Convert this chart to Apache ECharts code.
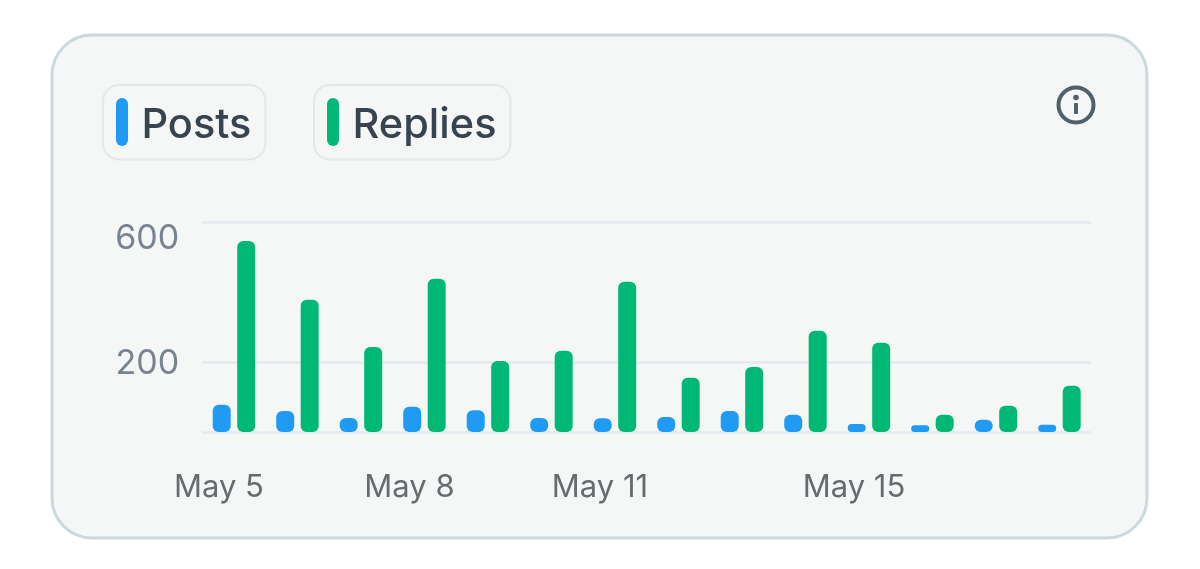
<!DOCTYPE html>
<html>
<head>
<meta charset="utf-8">
<style>html,body{margin:0;padding:0;background:#fff}#chart{width:1200px;height:569px}</style>
<script src="https://cdn.jsdelivr.net/npm/echarts@6/dist/echarts.min.js"></script>
</head>
<body>
<div id="chart"></div>
<script>
// Daily activity: posts and replies per day
const days = ['May 5','May 6','May 7','May 8','May 9','May 10','May 11','May 12','May 13','May 14','May 15','May 16','May 17','May 18'];
const posts = [78,60,40,72,62,40,39,43,60,49,23,19,35,21];
const replies = [546,378,243,438,203,232,429,155,186,289,255,49,75,132];
const yTicks = [0,200,600];
const yLabels = [200,600];
const xLabels = ['May 5','May 8','May 11','May 15'];

const font = 'Inter, sans-serif';
const capsule = 'path://M0 6A6 6 0 0 1 12 6V42A6 6 0 0 1 0 42Z';

function chip(name, left) {
  return {
    data: [name], left: left, top: 85, orient: 'horizontal', selectedMode: false,
    icon: capsule, itemWidth: 13, itemHeight: 48, itemGap: 0,
    padding: [13, 14, 13, 13], borderColor: '#e3e8ec', borderWidth: 2, borderRadius: 16,
    formatter: '{t|{name}}',
    textStyle: {
      padding: [0, 0, 0, 8],
      rich: { t: { fontFamily: font, fontSize: 41.5, fontWeight: 500, color: '#37434f', padding: [7, 0, 0, 0] } }
    }
  };
}

const chart = echarts.init(document.getElementById('chart'), null, { renderer: 'canvas' });
chart.setOption({
  animation: false,
  backgroundColor: '#ffffff',
  color: ['#1f9bf4', '#00b875'],
  graphic: [
    { type: 'rect', z: -1, shape: { x: 52, y: 35, width: 1095, height: 503, r: 40 },
      style: { fill: '#f5f7f7', stroke: '#cbd8de', lineWidth: 3 } },
    { type: 'circle', z: 5, shape: { cx: 1076, cy: 105, r: 17.5 },
      style: { fill: 'none', stroke: '#50606c', lineWidth: 4 } },
    { type: 'circle', z: 5, shape: { cx: 1076, cy: 97.5, r: 2.8 }, style: { fill: '#50606c' } },
    { type: 'rect', z: 5, shape: { x: 1074, y: 103, width: 4, height: 11, r: 1 }, style: { fill: '#50606c' } }
  ],
  legend: [chip('Posts', 103), chip('Replies', 314)],
  grid: { left: 202.2, right: 108.8, top: 222, bottom: 137, containLabel: false },
  xAxis: {
    type: 'category', data: days,
    axisLine: { show: false }, axisTick: { show: false },
    axisLabel: {
      fontFamily: font, fontSize: 31, color: '#666b70', margin: 40,
      padding: [0, 30, 0, 0],
      interval: (i, name) => xLabels.includes(name)
    }
  },
  yAxis: {
    type: 'value', min: 0, max: 600, interval: 200,
    axisLine: { show: false },
    axisTick: { show: false, customValues: yTicks },
    splitLine: { show: true, lineStyle: { color: '#e4e9ee', width: 2.5 } },
    axisLabel: {
      customValues: yLabels,
      margin: 23,
      verticalAlignMaxLabel: 'top',
      formatter: v => (v === 600 ? '{hi|' + v + '}' : '{lo|' + v + '}'),
      rich: {
        hi: { fontFamily: font, fontSize: 34, color: '#77838f', padding: [0, 0, 0, 0] },
        lo: { fontFamily: font, fontSize: 34, color: '#77838f', padding: [3, 0, 0, 0] }
      }
    }
  },
  series: [
    { name: 'Posts', type: 'bar', data: posts, barWidth: 18, barGap: '36%',
      itemStyle: { borderRadius: 6 } },
    { name: 'Replies', type: 'bar', data: replies, barWidth: 18,
      itemStyle: { borderRadius: 6 } }
  ]
});
</script>
</body>
</html>
